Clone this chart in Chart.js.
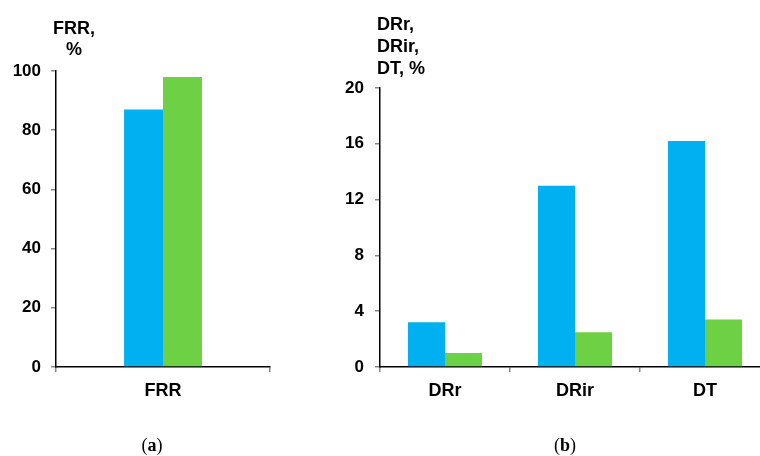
<!DOCTYPE html>
<html>
<head>
<meta charset="utf-8">
<script src="https://cdn.jsdelivr.net/npm/chart.js@4/dist/chart.umd.min.js"></script>
<style>
  html, body { margin: 0; padding: 0; background: #fff; overflow: hidden; width: 760px; height: 456px; }
  #wrap { position: relative; width: 760px; height: 456px; overflow: hidden; }
  canvas { position: absolute; top: 0; }
  #cA { left: 0; }
  #cB { left: 300px; }
  .cap { position: absolute; top: 434px; font-family: "Liberation Serif", "DejaVu Serif", serif; font-size: 18px; line-height: 22px; color: #000; transform: translateX(-50%); }
</style>
</head>
<body>
<div id="wrap">
  <canvas id="cA" width="280" height="456" style="width:280px;height:456px"></canvas>
  <canvas id="cB" width="470" height="456" style="width:470px;height:456px"></canvas>
  <div class="cap" style="left:152px">(<b>a</b>)</div>
  <div class="cap" style="left:565px">(<b>b</b>)</div>
</div>
<script>
// Panel (a): fraction rate
const catsA = ['FRR'];
const frrBlue = [87];
const frrGreen = [98];
const ticksA = [0, 20, 40, 60, 80, 100];

// Panel (b): DRr, DRir and DT
const catsB = ['DRr', 'DRir', 'DT'];
const drBlue = [3.2, 13, 16.2];
const drGreen = [1.0, 2.5, 3.4];
const ticksB = [0, 4, 8, 12, 16, 20];

const titleA = ['FRR,', '%'];
const titleB = ['DRr,', 'DRir,', 'DT, %'];

const BLUE = '#00B0F0';
const GREEN = '#6ED045';
const FONT = 'Liberation Sans, Arial, sans-serif';

// Axis heading drawn above the value axis
function headingPlugin(lines, align, dx, y0, step) {
  return {
    id: 'heading',
    afterDraw(chart) {
      const ctx = chart.ctx;
      ctx.save();
      ctx.font = 'bold 18px ' + FONT;
      ctx.fillStyle = '#000';
      ctx.textAlign = align;
      ctx.textBaseline = 'middle';
      lines.forEach((t, i) => ctx.fillText(t, chart.chartArea.left + dx, y0 + i * step));
      ctx.restore();
    }
  };
}

function makeChart(id, cats, blue, green, tickVals, catPct, yWidth, yPad, padding, plugin) {
  const min = tickVals[0], max = tickVals[tickVals.length - 1];
  return new Chart(document.getElementById(id), {
    type: 'bar',
    data: {
      labels: cats,
      datasets: [
        { data: blue, backgroundColor: BLUE, borderWidth: 0 },
        { data: green, backgroundColor: GREEN, borderWidth: 0 }
      ]
    },
    options: {
      responsive: false,
      animation: false,
      layout: { padding },
      plugins: { legend: { display: false }, tooltip: { enabled: false } },
      datasets: { bar: { categoryPercentage: catPct, barPercentage: 1 } },
      scales: {
        x: {
          grid: { offset: true, drawOnChartArea: false, drawTicks: true, tickLength: 5, color: '#888', lineWidth: 1.5 },
          border: { display: true, color: '#000', width: 1.5 },
          ticks: { color: '#000', font: { family: FONT, size: 18, weight: 'bold' }, padding: 8 },
          afterFit(s) { s.height = 40; }
        },
        y: {
          min, max,
          afterBuildTicks(s) { s.ticks = tickVals.map(v => ({ value: v })); },
          grid: { drawOnChartArea: false, drawTicks: true, tickLength: 5, color: '#888', lineWidth: 1.5 },
          border: { display: true, color: '#000', width: 1.5 },
          ticks: { color: '#000', font: { family: FONT, size: 17, weight: 'bold' }, padding: yPad },
          afterFit(s) { s.width = yWidth; }
        }
      }
    },
    plugins: [plugin]
  });
}

makeChart('cA', catsA, frrBlue, frrGreen, ticksA, 0.364, 56, 10,
  { top: 71, bottom: 49, left: 0, right: 10 },
  headingPlugin(titleA, 'center', 18, 29, 21));

makeChart('cB', catsB, drBlue, drGreen, ticksB, 0.57, 80, 11,
  { top: 88, bottom: 49, left: 0, right: 0 },
  headingPlugin(titleB, 'left', -3, 25, 22));
</script>
</body>
</html>
